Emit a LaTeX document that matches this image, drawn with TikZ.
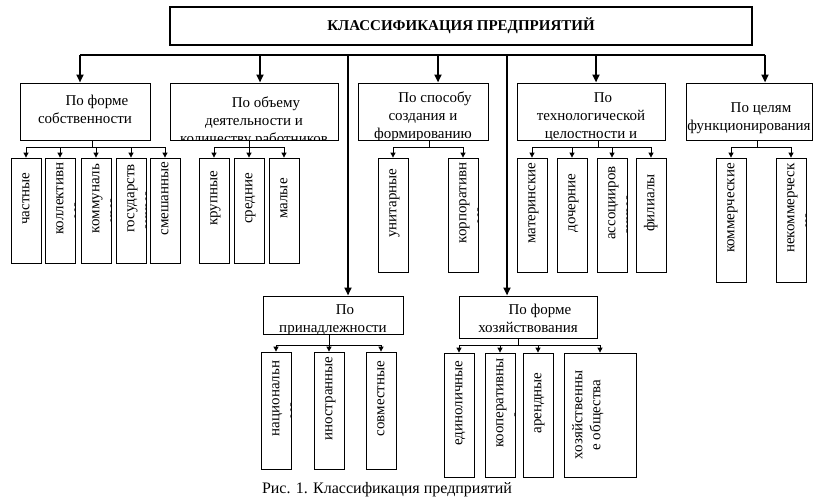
\documentclass[tikz,border=0pt]{standalone}
\usepackage{fontspec}
\setmainfont{Liberation Serif}
\usetikzlibrary{arrows.meta, fit, positioning}

\newcommand{\indnt}{\strut\hspace*{24pt}}

\tikzset{
  titlebox/.style={draw, line width=2.5pt, inner sep=0pt},
  catbox/.style={draw, line width=1pt, inner sep=0pt},
  itemb/.style={draw, line width=0.8pt, inner sep=0pt},
  headtxt/.style={align=center, anchor=north, inner sep=0pt},
  vtxt/.style={rotate=90, anchor=north, align=center, inner sep=0pt},
  bus/.style={line width=2pt},
  bigarr/.style={line width=2pt, -{Triangle[length=8pt,width=7pt]}},
  link/.style={line width=0.8pt},
  smallarr/.style={line width=0.8pt, -{Triangle[length=5pt,width=5pt]}}
}

% heading box: name, corners, text offset, text
\newcommand{\headbox}[4]{%
  \node[catbox, fit={#2}] (#1) {};
  \begin{scope}
    \clip ([xshift=-20pt]#1.south west) rectangle ([xshift=20pt]#1.north east);
    \node[headtxt] at ([yshift=-#3]#1.north) {#4};
  \end{scope}}
% item box with vertical text: name, corners, text
\newcommand{\itembox}[3]{%
  \node[itemb, fit={#2}] (#1) {};
  \begin{scope}
    \clip (#1.south west) rectangle (#1.north east);
    \node[vtxt] at ([xshift=6pt]#1.west) {#3};
  \end{scope}}

\begin{document}
\begin{tikzpicture}[x=1pt, y=-1pt, font=\fontsize{15}{18}\selectfont]
\useasboundingbox (0,0) rectangle (816,503);

% title
\node[titlebox, minimum width=582pt, minimum height=38pt, font=\fontsize{15}{18}\selectfont\bfseries] (title) at (461,26) {КЛАССИФИКАЦИЯ ПРЕДПРИЯТИЙ};

% headings
\headbox{own}{(20,83) (150,140)}{10pt}{\indnt По форме\\собственности}
\headbox{vol}{(170,83) (338,140)}{12pt}{\indnt По объему\\деятельности и\\количеству работников}
\headbox{meth}{(358,83) (488,140)}{7pt}{\indnt По способу\\создания и\\формированию}
\headbox{tech}{(517,83) (665,140)}{7pt}{\indnt По\\технологической\\целостности и}
\headbox{goal}{(686,83) (812,140)}{17pt}{\indnt По целям\\функционирования}
\headbox{bel}{(263,296) (403,334)}{6pt}{\indnt По\\принадлежности}
\headbox{mgmt}{(459,296) (597,338)}{6pt}{\indnt По форме\\хозяйствования}

% items
\foreach \nm/\xa/\xb/\txt in {ch/11/41/{\indnt частные}, kol/45/75/{\indnt коллективн\\ые},
    kom/81/111/{\indnt коммуналь\\ные}, gos/116/146/{\indnt государств\\енные},
    sm/150/180/{\indnt смешанные}, kr/199/229/{\indnt крупные},
    sr/234/264/{\indnt средние}, ml/269/299/{\indnt малые}}
  {\itembox{\nm}{(\xa,158) (\xb,263)}{\txt}}
\foreach \nm/\xa/\xb/\txt in {un/378/408/{\indnt унитарные}, korp/448/478/{\indnt корпоративн\\ые},
    mat/517/547/{\indnt материнские}, doch/557/587/{\indnt дочерние},
    asc/597/627/{\indnt ассоцииров\\анные}, fil/636/666/{\indnt филиалы}}
  {\itembox{\nm}{(\xa,158) (\xb,272)}{\txt}}
\foreach \nm/\xa/\xb/\txt in {kmr/716/746/{\indnt коммерческие}, nkm/776/806/{\indnt некоммерческ\\ие}}
  {\itembox{\nm}{(\xa,158) (\xb,282)}{\txt}}
\foreach \nm/\xa/\xb/\txt in {nac/261/291/{\indnt национальн\\ые}, ino/314/344/{\indnt иностранные},
    sov/366/396/{\indnt совместные}}
  {\itembox{\nm}{(\xa,352) (\xb,469)}{\txt}}
\foreach \nm/\xa/\xb/\txt in {ed/444/474/{\indnt единоличные}, koop/485/515/{\indnt кооперативны\\е},
    ar/523/553/{\indnt арендные}, hoz/564/636/{\strut хозяйственны\\е общества}}
  {\itembox{\nm}{(\xa,353) (\xb,477)}{\txt}}

% main bus
\coordinate (b1) at (80,55);
\coordinate (b2) at (260,55);
\coordinate (b3) at (438,55);
\coordinate (b4) at (596,55);
\coordinate (b5) at (765,55);
\coordinate (b6) at (348,55);
\coordinate (b7) at (507,55);
\draw[bus] (b1) -- (b5);
\draw[bigarr] (b1) -- (b1 |- own.north);
\draw[bigarr] (b2) -- (b2 |- vol.north);
\draw[bigarr] (b3) -- (b3 |- meth.north);
\draw[bigarr] (b4) -- (b4 |- tech.north);
\draw[bigarr] (b5) -- (b5 |- goal.north);
\draw[bigarr] (b6) -- (b6 |- bel.north);
\draw[bigarr] (b7) -- (b7 |- mgmt.north);

% branches
\coordinate (j1) at (92,147);
\coordinate (j2) at (249,147);
\coordinate (j3) at (429,147);
\coordinate (j4) at (598,147);
\coordinate (j5) at (757,147);
\coordinate (j6) at (329,345);
\coordinate (j7) at (518,345);
\foreach \hd/\j/\fst/\lst in {own/j1/ch/sm, vol/j2/kr/ml, meth/j3/un/korp,
    tech/j4/mat/fil, goal/j5/kmr/nkm, bel/j6/nac/sov, mgmt/j7/ed/hoz}
  {\draw[link] (\hd.south -| \j) -- (\j);
   \draw[link] (\j -| \fst.north) -- (\j -| \lst.north);}
\foreach \j/\n in {j1/ch, j1/kol, j1/kom, j1/gos, j1/sm, j2/kr, j2/sr, j2/ml,
    j3/un, j3/korp, j4/mat, j4/doch, j4/asc, j4/fil, j5/kmr, j5/nkm,
    j6/nac, j6/ino, j6/sov, j7/ed, j7/koop, j7/ar, j7/hoz}
  \draw[smallarr] (\j -| \n.north) -- (\n.north);

% caption
\node[font=\fontsize{16}{19}\selectfont] (cap) at (387,490) {Рис. 1. Классификация предприятий};
\end{tikzpicture}
\end{document}
